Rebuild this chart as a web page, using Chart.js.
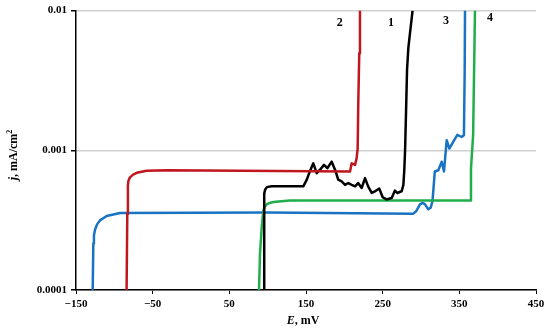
<!DOCTYPE html>
<html>
<head>
<meta charset="utf-8">
<script src="https://cdn.jsdelivr.net/npm/chart.js@4/dist/chart.umd.min.js"></script>
<style>
  html, body { margin: 0; padding: 0; background: #fff; }
  #wrap { width: 550px; height: 336px; position: relative; }
</style>
</head>
<body>
<div id="wrap"><canvas id="grafico"></canvas></div>
<script>
const xTicks = [-150, -50, 50, 150, 250, 350, 450];
const yTicks = [0.0001, 0.001, 0.01];
const yTickLabels = ["0.0001", "0.001", "0.01"];

// curve 1 (black)
const e1 = [95.6, 95.3, 95.4, 95.8, 96.8, 99, 105, 146.5, 151, 155, 159.5, 164, 168, 173.5, 177.8, 183.5, 188, 192, 196.5, 201, 205, 209.6, 214, 218, 222.6, 227, 231, 235.7, 240, 245.6, 250, 255, 261.8, 266, 269, 274.8, 277, 278.3, 279.3, 280.5, 281.8, 283.5, 285.6, 289];
const j1 = [1e-4, 3.0e-4, 4.3e-4, 4.9e-4, 5.25e-4, 5.45e-4, 5.52e-4, 5.52e-4, 6.17e-4, 7.05e-4, 8.07e-4, 6.86e-4, 7.23e-4, 7.86e-4, 7.44e-4, 8.29e-4, 7.23e-4, 6.17e-4, 5.99e-4, 5.66e-4, 5.83e-4, 5.66e-4, 5.52e-4, 5.83e-4, 5.37e-4, 6.32e-4, 5.52e-4, 4.95e-4, 5.09e-4, 5.32e-4, 4.61e-4, 4.45e-4, 4.56e-4, 5.15e-4, 4.95e-4, 5.09e-4, 5.66e-4, 7.4e-4, 1.03e-3, 1.9e-3, 3.77e-3, 5.4e-3, 6.88e-3, 0.01];

// curve 2 (red)
const e2 = [-84, -83.1, -82.2, -82.4, -81.6, -79.6, -75.5, -70.8, -57.8, -31.7, 207.4, 209.6, 214, 216, 217.4, 218.2, 219.5, 220.4];
const j2 = [1e-4, 3.5e-4, 4.84e-4, 5.6e-4, 6.05e-4, 6.4e-4, 6.7e-4, 6.9e-4, 7.13e-4, 7.2e-4, 7.05e-4, 8.07e-4, 7.86e-4, 8.75e-4, 1.03e-3, 2.2e-3, 4.96e-3, 0.01];

// curve 3 (blue)
const e3 = [-128.2, -127.4, -126.6, -125.2, -122.5, -118.7, -110, -92.6, 100, 290, 294, 298.7, 302, 305, 309.5, 312.6, 315, 318, 322.6, 327, 330, 333.5, 337, 342, 347.4, 353, 356, 357, 357.4];
const j3 = [1e-4, 2.15e-4, 2.45e-4, 2.7e-4, 2.95e-4, 3.15e-4, 3.39e-4, 3.56e-4, 3.58e-4, 3.52e-4, 3.68e-4, 4.1e-4, 4.2e-4, 4.12e-4, 3.78e-4, 3.88e-4, 4.33e-4, 7.05e-4, 7.2e-4, 8.29e-4, 7.05e-4, 1.18e-3, 1.03e-3, 1.15e-3, 1.29e-3, 1.245e-3, 1.28e-3, 3.77e-3, 0.01];

// curve 4 (green)
const e4 = [88.7, 90, 92.2, 94.3, 96.3, 98.7, 102.5, 107.4, 129, 364, 365.2, 368, 370.4];
const j4 = [1e-4, 1.82e-4, 2.8e-4, 3.68e-4, 3.95e-4, 4.1e-4, 4.2e-4, 4.27e-4, 4.37e-4, 4.37e-4, 7.4e-4, 1.29e-3, 0.01];

const curveNames = ["1", "2", "3", "4"];
const labelE = [261, 194, 332.6, 390];
const labelJ = [8.1e-3, 8.1e-3, 8.4e-3, 8.9e-3];

function puntos(e, j) {
  return e.map((v, i) => ({ x: v, y: j[i] }));
}

function linea(e, j, color) {
  return {
    data: puntos(e, j),
    borderColor: color,
    borderWidth: 2.5,
    pointRadius: 0,
    showLine: true,
    fill: false,
    tension: 0,
    borderJoinStyle: "round",
  };
}

const serif = "'Liberation Serif', 'DejaVu Serif', serif";

const etiquetas = {
  id: "etiquetas",
  afterDraw(chart) {
    const ctx = chart.ctx;
    const sx = chart.scales.x;
    const sy = chart.scales.y;
    ctx.save();
    ctx.fillStyle = "#000";
    ctx.font = "bold 12px " + serif;
    ctx.textAlign = "center";
    ctx.textBaseline = "middle";
    curveNames.forEach((n, i) => {
      ctx.fillText(n, sx.getPixelForValue(labelE[i]), sy.getPixelForValue(labelJ[i]));
    });

    // x title: "E, mV"
    ctx.textAlign = "left";
    ctx.font = "bold 12px " + serif;
    const wb = ctx.measureText(", mV").width;
    ctx.font = "italic bold 12px " + serif;
    const wa = ctx.measureText("E").width;
    const x0 = 303 - (wa + wb) / 2;
    ctx.fillText("E", x0, 321);
    ctx.font = "bold 12px " + serif;
    ctx.fillText(", mV", x0 + wa, 321);

    // y title: "j, mA/cm2"
    ctx.translate(14, 155);
    ctx.rotate(-Math.PI / 2);
    ctx.font = "italic bold 12px " + serif;
    const ja = ctx.measureText("j").width;
    ctx.font = "bold 12px " + serif;
    const jb = ctx.measureText(", mA/cm").width;
    ctx.font = "bold 8px " + serif;
    const jc = ctx.measureText("2").width;
    const y0 = -(ja + jb + jc) / 2;
    ctx.font = "italic bold 12px " + serif;
    ctx.fillText("j", y0, 0);
    ctx.font = "bold 12px " + serif;
    ctx.fillText(", mA/cm", y0 + ja, 0);
    ctx.font = "bold 8px " + serif;
    ctx.fillText("2", y0 + ja + jb, -4);
    ctx.restore();
  },
};

new Chart(document.getElementById("grafico"), {
  type: "scatter",
  data: {
    datasets: [
      linea(e2, j2, "#c0161d"),
      linea(e1, j1, "#000000"),
      linea(e4, j4, "#1fae4b"),
      linea(e3, j3, "#1a72c2"),
    ],
  },
  options: {
    responsive: true,
    maintainAspectRatio: false,
    animation: false,
    layout: { padding: { left: 0, right: 14, top: 7, bottom: 0 } },
    plugins: {
      legend: { display: false },
      tooltip: { enabled: false },
    },
    scales: {
      x: {
        type: "linear",
        min: -150,
        max: 450,
        afterBuildTicks: (axis) => {
          axis.ticks = xTicks.map((v) => ({ value: v }));
        },
        afterFit: (axis) => {
          axis.height = 46;
        },
        border: { color: "#000", width: 1.5 },
        grid: { drawOnChartArea: false, tickLength: 4, color: "#000" },
        ticks: {
          color: "#000",
          padding: 4,
          maxRotation: 0,
          font: { family: serif, size: 11, weight: "bold" },
          callback: (v) => (v < 0 ? "\u2212" + Math.abs(v) : String(v)),
        },
      },
      y: {
        type: "logarithmic",
        min: 0.0001,
        max: 0.01,
        afterBuildTicks: (axis) => {
          axis.ticks = yTicks.map((v) => ({ value: v }));
        },
        afterFit: (axis) => {
          axis.width = 76;
        },
        border: { color: "#000", width: 1.5 },
        grid: { color: "#d0d0d0", lineWidth: 1.5, tickLength: 5, tickColor: "#000" },
        ticks: {
          color: "#000",
          padding: 4,
          font: { family: serif, size: 11, weight: "bold" },
          callback: (v) => {
            const k = yTicks.findIndex((t) => Math.abs(t - v) / t < 1e-6);
            return k >= 0 ? yTickLabels[k] : "";
          },
        },
      },
    },
  },
  plugins: [etiquetas],
});
</script>
</body>
</html>
